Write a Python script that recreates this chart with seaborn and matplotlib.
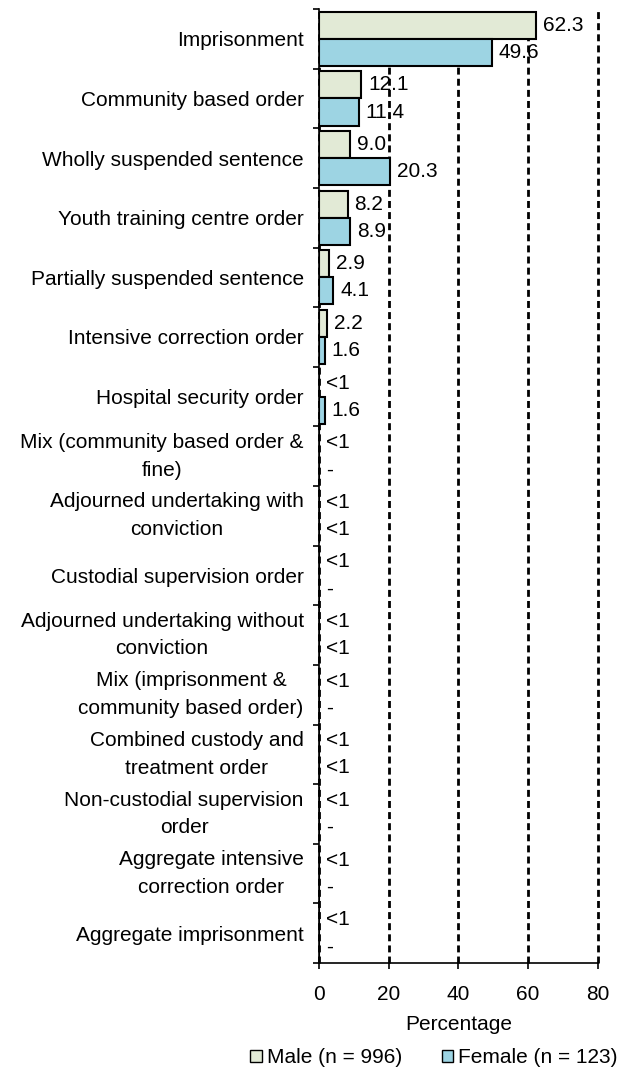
import matplotlib
matplotlib.use("Agg")
import matplotlib.pyplot as plt
from matplotlib.patches import Patch
import seaborn as sns
import pandas as pd
import numpy as np

categories = [
    "Imprisonment",
    "Community based order",
    "Wholly suspended sentence",
    "Youth training centre order",
    "Partially suspended sentence",
    "Intensive correction order",
    "Hospital security order",
    "Mix (community based order &\nfine)",
    "Adjourned undertaking with\nconviction",
    "Custodial supervision order",
    "Adjourned undertaking without\nconviction",
    "Mix (imprisonment &\ncommunity based order)",
    "Combined custody and\ntreatment order",
    "Non-custodial supervision\norder",
    "Aggregate intensive\ncorrection order",
    "Aggregate imprisonment",
]
male_values = [62.3, 12.1, 9.0, 8.2, 2.9, 2.2, 0, 0, 0, 0, 0, 0, 0, 0, 0, 0]
male_labels = ["62.3", "12.1", "9.0", "8.2", "2.9", "2.2", "<1", "<1", "<1",
               "<1", "<1", "<1", "<1", "<1", "<1", "<1"]
female_values = [49.6, 11.4, 20.3, 8.9, 4.1, 1.6, 1.6, 0, 0, 0, 0, 0, 0, 0, 0, 0]
female_labels = ["49.6", "11.4", "20.3", "8.9", "4.1", "1.6", "1.6", "-", "<1",
                 "-", "<1", "-", "<1", "-", "-", "-"]
series_names = ["Male (n = 996)", "Female (n = 123)"]
x_ticks = [0, 20, 40, 60, 80]
x_label = "Percentage"

male_color = "#e2ead6"
female_color = "#9dd4e3"

sns.set_theme(style="white")
plt.rcParams["font.family"] = ["Liberation Sans", "DejaVu Sans"]
plt.rcParams["text.color"] = "black"
plt.rcParams["axes.labelcolor"] = "black"
plt.rcParams["xtick.color"] = "black"
plt.rcParams["ytick.color"] = "black"
FS = 15

df = pd.DataFrame({
    "category": categories * 2,
    "value": male_values + female_values,
    "series": [series_names[0]] * len(categories) + [series_names[1]] * len(categories),
})

fig = plt.figure(figsize=(6.2, 10.76), dpi=100)
ax = fig.add_axes([0.5145, 0.105, 0.4495, 0.8866])

sns.barplot(data=df, y="category", x="value", hue="series", order=categories,
            hue_order=series_names, palette=[male_color, female_color],
            saturation=1, width=0.91, edgecolor="black", linewidth=1.5, ax=ax,
            legend=False, zorder=3)

for cont, labs in zip(ax.containers, [male_labels, female_labels]):
    ax.bar_label(cont, labels=labs, padding=5, fontsize=FS, color="black")

ax.set_xlim(0, 80)
ax.set_xticks(x_ticks)
ax.set_xticklabels([str(t) for t in x_ticks], fontsize=FS)
ax.set_xlabel(x_label, fontsize=FS, labelpad=8)
ax.set_ylabel("")

ax.set_yticks(range(len(categories)))
ax.set_yticklabels(categories, fontsize=FS, multialignment="center", linespacing=1.58)
for lab in ax.get_yticklabels():
    if "\n" in lab.get_text():
        lab.set_va("center")
ax.set_yticks(np.arange(-0.5, len(categories), 1.0), minor=True)
ax.tick_params(axis="y", which="major", length=0, pad=11)
ax.tick_params(axis="y", which="minor", length=4, width=1.2, color="black", direction="out", left=True)
ax.tick_params(axis="x", which="major", length=4, width=1.2, color="black", direction="out", bottom=True, pad=12)

for s in ["top", "right"]:
    ax.spines[s].set_visible(False)
for s in ["left", "bottom"]:
    ax.spines[s].set_color("black")
    ax.spines[s].set_linewidth(1.2)
    ax.spines[s].set_zorder(4)

ax.grid(axis="x", color="black", linestyle=(0, (2.5, 1.5)), linewidth=2.0, zorder=0)
ax.grid(axis="y", visible=False)
ax.set_axisbelow(True)
for gl in ax.get_xgridlines():
    gl.set_clip_on(False)

handles = [Patch(facecolor=male_color, edgecolor="black", linewidth=1),
           Patch(facecolor=female_color, edgecolor="black", linewidth=1)]
fig.legend(handles, series_names, loc="center", bbox_to_anchor=(0.70, 0.017),
           ncol=2, frameon=False, fontsize=FS, handlelength=0.55, handleheight=0.55,
           handletextpad=0.25, columnspacing=1.9, borderpad=0)

fig.savefig("out.png", dpi=100)
